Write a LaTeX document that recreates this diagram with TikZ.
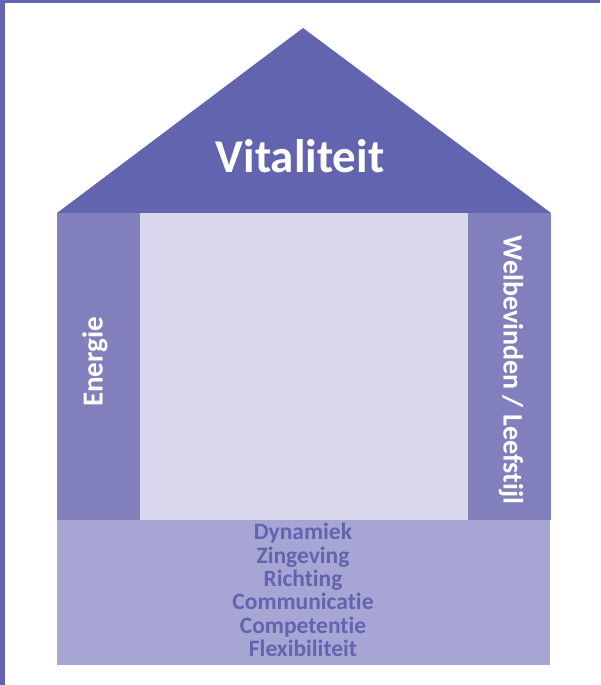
\documentclass[tikz,border=0pt]{standalone}
\usepackage{fontspec}
\setmainfont{Carlito}[Ligatures=NoCommon]
\usepackage{xcolor}
\definecolor{vdark}{HTML}{6264AF}
\definecolor{vpillar}{HTML}{8180BD}
\definecolor{vlight}{HTML}{D8D7EC}
\definecolor{vbase}{HTML}{A7A5D4}

\begin{document}
\begin{tikzpicture}[x=1pt,y=-1pt,
  label/.style={font=\bfseries,text=white,inner sep=0pt},
  pillar/.style={fill=vpillar,draw=none}
]
\useasboundingbox (0,0) rectangle (600,685);
\fill[vdark] (0,0) rectangle (5,685);
\fill[vdark] (0,0) rectangle (600,3);
% dak
\fill[vdark] (57,213) -- (303,28) -- (551,213) -- cycle;
\node[label,font=\fontsize{47}{50}\selectfont\bfseries,anchor=base] (vit) at (300,172) {Vitaliteit};
% pilaren en binnenkant
\fill[vlight] (140,213) rectangle (468,520);
\fill[pillar] (57,213) rectangle (140,520);
\fill[pillar] (468,213) rectangle (551,520);
\node[label,font=\fontsize{29}{30}\selectfont\bfseries,rotate=90] (en) at (95,362) {Energie};
\node[label,font=\fontsize{28}{30}\selectfont\bfseries,rotate=-90] (wl) at (511,370) {Welbevinden / Leefstijl};
% fundament
\fill[vbase] (57,520) rectangle (550,665);
\node[font=\fontsize{23.5}{23.4}\selectfont\bfseries,text=vdark,align=center,inner sep=0pt] (fund) at (303,590)
  {Dynamiek\\Zingeving\\Richting\\Communicatie\\Competentie\\Flexibiliteit};
\end{tikzpicture}
\end{document}
